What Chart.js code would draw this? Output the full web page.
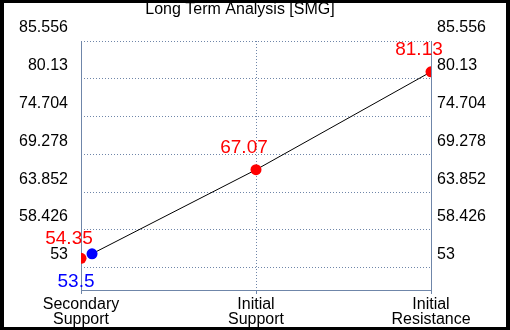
<!DOCTYPE html>
<html>
<head>
<meta charset="utf-8">
<script src="https://cdn.jsdelivr.net/npm/chart.js"></script>
<style>
  html, body { margin: 0; padding: 0; background: #000; }
  .frame {
    position: absolute; left: 0; top: 0;
    width: 510px; height: 330px;
    box-sizing: border-box;
    border: 4px solid #000;
    border-top-width: 3px;
    border-bottom-width: 3px;
    background: #fff;
  }
  canvas { display: block; }
</style>
</head>
<body>
<div class="frame">
  <canvas id="myChart" width="502" height="324"></canvas>
</div>
<script>
  // Chart data
  const title = 'Long Term Analysis [SMG]';
  const categories = [['Secondary', 'Support'], ['Initial', 'Support'], ['Initial', 'Resistance']];
  const yTicks = [53, 58.426, 63.852, 69.278, 74.704, 80.13, 85.556];
  const yTickLabels = ['53', '58.426', '63.852', '69.278', '74.704', '80.13', '85.556'];
  const yMin = 49.8;
  const yMax = 85.556;

  // line: blue start point, then the two red levels
  const lineX = [0.063, 1, 2];
  const lineY = [55.0, 67.07, 81.13];
  const lineColors = ['#0000ff', '#ff0000', '#ff0000'];
  // secondary support red point (not on the line)
  const redX = [0];
  const redY = [54.35];

  // value labels
  const valueLabels = ['54.35', '53.5', '67.07', '81.13'];
  const valueLabelColors = ['#ff0000', '#0000ff', '#ff0000', '#ff0000'];
  const valueLabelAnchors = [[0, 54.35], [0.063, 55.0], [1, 67.07], [2, 81.13]];
  const valueLabelShift = [[-12, -20], [-16, 28], [-12, -22], [-12, -22]];

  const gridColor = '#6f86a9';
  const font = 'Arial, "Liberation Sans", sans-serif';

  const labelPlugin = {
    id: 'valueLabels',
    beforeDatasetsDraw(chart) {
      // solid axis lines on the left and bottom (grid lines stay dotted)
      const ctx = chart.ctx;
      const a = chart.chartArea;
      ctx.save();
      ctx.strokeStyle = gridColor;
      ctx.lineWidth = 1;
      ctx.setLineDash([]);
      ctx.beginPath();
      ctx.moveTo(a.left + 0.5, a.top);
      ctx.lineTo(a.left + 0.5, a.bottom + 0.5);
      ctx.lineTo(a.right, a.bottom + 0.5);
      ctx.stroke();
      ctx.restore();
    },
    afterDatasetsDraw(chart) {
      const ctx = chart.ctx;
      const xs = chart.scales.x;
      const ys = chart.scales.y;
      ctx.save();
      ctx.font = '19px ' + font;
      ctx.textAlign = 'center';
      ctx.textBaseline = 'middle';
      valueLabels.forEach((txt, i) => {
        const px = xs.getPixelForValue(valueLabelAnchors[i][0]) + valueLabelShift[i][0];
        const py = ys.getPixelForValue(valueLabelAnchors[i][1]) + valueLabelShift[i][1];
        ctx.fillStyle = valueLabelColors[i];
        ctx.fillText(txt, px, py);
      });
      // title
      ctx.font = '16px ' + font;
      ctx.fillStyle = '#000';
      ctx.textBaseline = 'alphabetic';
      ctx.fillText(title, 236, 11);
      ctx.restore();
    }
  };

  const ctx = document.getElementById('myChart').getContext('2d');
  const myChart = new Chart(ctx, {
    type: 'scatter',
    data: {
      datasets: [
        {
          data: lineX.map((x, i) => ({ x: x, y: lineY[i] })),
          showLine: true,
          borderColor: '#000',
          borderWidth: 1,
          pointRadius: 5.5,
          pointHoverRadius: 5.5,
          pointBackgroundColor: lineColors,
          pointBorderColor: lineColors,
          pointBorderWidth: 0
        },
        {
          data: redX.map((x, i) => ({ x: x, y: redY[i] })),
          showLine: false,
          pointRadius: 5.5,
          pointBackgroundColor: '#ff0000',
          pointBorderColor: '#ff0000',
          pointBorderWidth: 0
        }
      ]
    },
    options: {
      responsive: false,
      animation: false,
      events: [],
      layout: { padding: { top: 38, left: 0, right: 0, bottom: 0 } },
      plugins: {
        legend: { display: false },
        title: { display: false },
        tooltip: { enabled: false }
      },
      scales: {
        x: {
          type: 'linear',
          min: 0,
          max: 2,
          afterBuildTicks: (scale) => { scale.ticks = [0, 1, 2].map(v => ({ value: v })); },
          afterFit: (scale) => { scale.height = 37; },
          ticks: {
            callback: (v) => categories[v],
            color: '#000',
            font: { family: font, size: 16, lineHeight: 0.94 },
            padding: 3,
            maxRotation: 0
          },
          grid: {
            color: gridColor,
            tickLength: 4,
            tickColor: gridColor,
            tickBorderDash: [],
            lineWidth: 1
          },
          border: { display: false, dash: [1, 2] }
        },
        y: {
          position: 'left',
          min: yMin,
          max: yMax,
          afterBuildTicks: (scale) => { scale.ticks = yTicks.map(v => ({ value: v })); },
          afterFit: (scale) => { scale.width = 77; },
          ticks: {
            callback: (v, i) => yTickLabels[i],
            color: '#000',
            font: { family: font, size: 16 },
            padding: 13,
            labelOffset: -13
          },
          grid: {
            color: gridColor,
            drawTicks: false,
            lineWidth: 1
          },
          border: { display: false, dash: [1, 2] }
        },
        y2: {
          position: 'right',
          min: yMin,
          max: yMax,
          afterBuildTicks: (scale) => { scale.ticks = yTicks.map(v => ({ value: v })); },
          afterFit: (scale) => { scale.width = 75; },
          ticks: {
            callback: (v, i) => yTickLabels[i],
            color: '#000',
            font: { family: font, size: 16 },
            padding: 6,
            labelOffset: -13
          },
          grid: { display: false, drawTicks: false },
          border: { display: true, color: gridColor, width: 1 }
        }
      }
    },
    plugins: [labelPlugin]
  });
</script>
</body>
</html>
